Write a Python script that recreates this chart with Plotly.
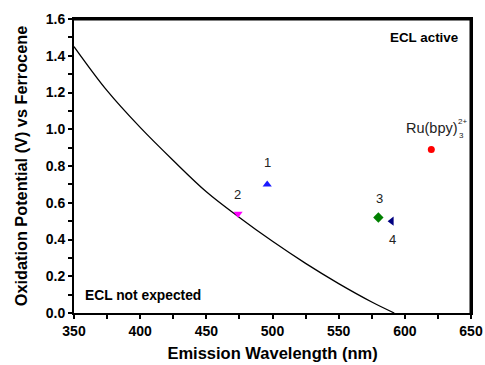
import plotly.graph_objects as go

# boundary curve
curve_nm = [350, 375, 400, 425, 450, 475, 500, 525, 550, 575, 592]
curve_v = [1.45, 1.21, 1.01, 0.83, 0.66, 0.52, 0.39, 0.27, 0.16, 0.06, 0.0]

# compounds
pt_names = ["1", "2", "3", "4", "Ru(bpy)3 2+"]
pt_nm = [496, 474, 580, 590, 620]
pt_v = [0.70, 0.54, 0.52, 0.50, 0.89]
pt_sym = ["triangle-up", "triangle-down", "diamond", "triangle-left", "circle"]
pt_col = ["#1a1aff", "#ff00ff", "#008000", "#000080", "#ff0000"]

# ticks (every other one is an unlabelled minor tick)
x_ticks = [350, 375, 400, 425, 450, 475, 500, 525, 550, 575, 600, 625, 650]
x_labels = ["350", "", "400", "", "450", "", "500", "", "550", "", "600", "", "650"]
y_ticks = [0.0, 0.1, 0.2, 0.3, 0.4, 0.5, 0.6, 0.7, 0.8, 0.9, 1.0, 1.1, 1.2, 1.3, 1.4, 1.5, 1.6]
y_labels = ["0.0", "", "0.2", "", "0.4", "", "0.6", "", "0.8", "", "1.0", "", "1.2", "", "1.4", "", "1.6"]

x_rng = [350, 650]
y_rng = [0, 1.6]

fnt = "Liberation Sans, Arial, sans-serif"

fig = go.Figure()
# top / right frame (half of it is clipped at the plot edge)
fig.add_trace(go.Scatter(x=[x_rng[0], x_rng[1], x_rng[1]], y=[y_rng[1], y_rng[1], y_rng[0]],
                         mode="lines", line=dict(color="black", width=3),
                         showlegend=False, hoverinfo="skip"))
fig.add_trace(go.Scatter(x=curve_nm, y=curve_v, mode="lines",
                         line=dict(color="black", width=1.3, shape="spline"),
                         showlegend=False, hoverinfo="skip"))
for i in range(len(pt_nm)):
    fig.add_trace(go.Scatter(x=[pt_nm[i]], y=[pt_v[i]], mode="markers",
                             marker=dict(symbol=pt_sym[i], color=pt_col[i],
                                         size=8 if pt_sym[i] != "circle" else 7),
                             name=pt_names[i], showlegend=False))

lbl = dict(showarrow=False, font=dict(family=fnt, size=13, color="#222"))
fig.add_annotation(x=496, y=0.82, text="1", **lbl)
fig.add_annotation(x=473.7, y=0.645, text="2", **lbl)
fig.add_annotation(x=580.5, y=0.623, text="3", **lbl)
fig.add_annotation(x=591, y=0.40, text="4", **lbl)
fig.add_annotation(x=620.5, y=1.008, text="Ru(bpy)", showarrow=False,
                   font=dict(family=fnt, size=14.5, color="#222"))
fig.add_annotation(x=643.8, y=1.04, text="2+", showarrow=False,
                   font=dict(family=fnt, size=8, color="#222"))
fig.add_annotation(x=642.6, y=0.965, text="3", showarrow=False,
                   font=dict(family=fnt, size=8, color="#222"))
fig.add_annotation(x=614.4, y=1.5, text="<b>ECL active</b>", showarrow=False,
                   font=dict(family=fnt, size=13.4, color="black"))
fig.add_annotation(x=402.3, y=0.096, text="<b>ECL not expected</b>", showarrow=False,
                   font=dict(family=fnt, size=13.8, color="black"))

fig.update_xaxes(range=x_rng, tickmode="array", tickvals=x_ticks, ticktext=x_labels,
                 showgrid=False, zeroline=False, automargin=False,
                 showline=True, mirror=True, linecolor="black", linewidth=2,
                 ticks="outside", ticklen=4, tickwidth=1.5, tickcolor="black",
                 tickfont=dict(family=fnt, size=14, color="black", weight="bold"),
                 title=dict(text="<b>Emission Wavelength (nm)</b>", standoff=10,
                            font=dict(family=fnt, size=16.5, color="black")))
fig.update_yaxes(range=y_rng, tickmode="array", tickvals=y_ticks, ticktext=y_labels,
                 showgrid=False, zeroline=False, automargin=False,
                 showline=True, mirror=True, linecolor="black", linewidth=2,
                 ticks="outside", ticklen=4, tickwidth=1.5, tickcolor="black",
                 tickfont=dict(family=fnt, size=14, color="black", weight="bold"),
                 title=dict(text="<b>Oxidation Potential (V) vs Ferrocene</b>", standoff=14,
                            font=dict(family=fnt, size=16.3, color="black")))
fig.update_layout(width=485, height=365, plot_bgcolor="white", paper_bgcolor="white",
                  margin=dict(l=74, r=14, t=19, b=52))

fig.write_html("out.html", config={"displayModeBar": False},
               post_script="document.body.style.margin='0';")
